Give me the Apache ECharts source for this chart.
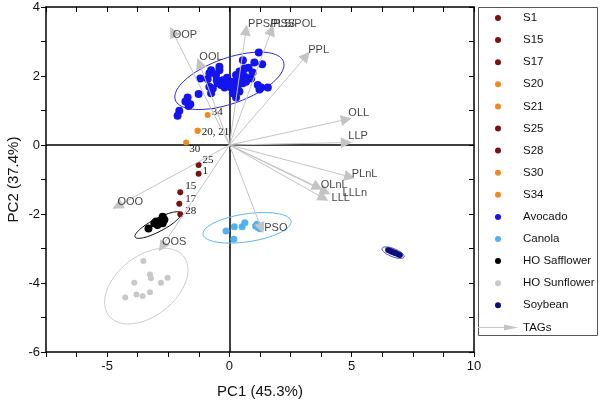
<!DOCTYPE html>
<html>
<head>
<meta charset="utf-8">
<script src="https://cdn.jsdelivr.net/npm/echarts@6/dist/echarts.min.js"></script>
<style>html,body{margin:0;padding:0;background:#fff}#c{width:600px;height:408px}</style>
</head>
<body>
<div id="c"></div>
<script>
// ---- data ----
const sampleNames = ['S1','S15','S17','S20','S21','S25','S28','S30','S34'];
const sampleLabels = ['1','15','17','20, 21','','25','28','30','34'];
const sampleX = [-1.26,-2.01,-2.05,-1.30,-1.30,-1.26,-2.01,-1.77,-0.89];
const sampleY = [-0.83,-1.37,-1.70,0.41,0.41,-0.58,-2.01,0.07,0.87];

const avocadoX = [1.20,0.55,1.02,1.34,0.61,0.78,0.41,-0.75,-0.41,-0.41,-0.82,-1.19,-0.89,-0.55,-0.52,-0.25,-0.07,0.27,0.55,0.68,0.89,0.68,0.55,0.27,0.00,-0.14,-0.34,-0.48,-0.82,-0.68,-0.20,0.07,0.27,0.41,0.14,0.27,1.16,1.30,1.57,1.23,-0.75,-1.26,-1.71,-1.80,-1.60,-1.67,-2.05,-2.12,0.48,0.07,-0.27,0.34,-0.10,0.95];
const avocadoY = [2.68,2.46,2.39,2.34,2.22,2.24,2.13,2.17,2.27,2.17,2.08,1.93,1.91,2.03,1.88,1.83,1.88,2.03,2.06,1.96,1.93,1.83,1.79,1.83,1.79,1.74,1.74,1.79,1.69,1.64,1.67,1.67,1.59,1.55,1.50,1.38,1.74,1.67,1.67,1.61,1.50,1.48,1.38,1.26,1.18,1.13,0.99,0.85,1.88,1.83,1.88,1.72,1.95,2.10];
const canolaX = [-0.14,0.20,0.18,0.52,0.63,1.07,1.16,1.26,1.13];
const canolaY = [-2.49,-2.37,-2.73,-2.37,-2.25,-2.35,-2.39,-2.43,-2.30];
const safflowerX = [-3.31,-3.07,-3.00,-2.89,-2.73,-2.66,-2.73,-2.94];
const safflowerY = [-2.42,-2.27,-2.22,-2.25,-2.08,-2.17,-2.27,-2.32];
const sunflowerX = [-3.52,-3.25,-3.21,-2.53,-2.80,-3.89,-4.26,-3.80,-3.55,-3.25];
const sunflowerY = [-3.36,-3.75,-3.86,-3.85,-3.99,-3.99,-4.42,-4.33,-4.38,-4.27];
const soybeanX = [6.49,6.58,6.69,6.80,6.90,6.62,6.76,6.97];
const soybeanY = [-3.04,-3.07,-3.11,-3.14,-3.17,-3.09,-3.12,-3.19];

// ellipse: centre x, centre y, half-axis 1 (dx, dy), half-axis 2 (dx, dy)
const avocadoEllipse = [0.00, 1.86, 2.21, 0.556, 0.31, -0.62];
const canolaEllipse = [0.72, -2.40, 1.80, 0.19, 0.086, -0.40];
const safflowerEllipse = [-2.92, -2.32, 0.935, 0.348, 0.124, -0.166];
const sunflowerEllipse = [-3.40, -4.09, 1.516, 0.870, 0.779, -0.667];
const soybeanEllipse = [6.69, -3.12, 0.45, -0.125, -0.06, -0.11];

const tagNames = ['OOP','OOL','PPS/PSS','PLS/POL','PPL','OLL','LLP','PLnL','OLnL','LLLn','LLL','PSO','OOO','OOS'];
const tagX = [-2.32,-1.23,0.68,1.72,3.14,4.78,4.78,4.92,3.61,3.93,3.85,1.30,-4.58,-2.76];
const tagY = [3.28,2.37,3.33,3.33,2.58,0.74,0.07,-0.92,-1.22,-1.36,-1.54,-2.41,-1.77,-2.95];

const xTicksLabelled = [-5, 0, 5, 10];
const yTicksLabelled = [-6, -4, -2, 0, 2, 4];

// ---- styles ----
const SANS = 'Liberation Sans, Arial, sans-serif';
const SERIF = 'Liberation Serif, Times New Roman, serif';
const darkRed = '#7b1111', orange = '#f0891e';
const sampleColor = {S1:darkRed,S15:darkRed,S17:darkRed,S20:orange,S21:orange,S25:darkRed,S28:darkRed,S30:orange,S34:orange};
const sampleLabelOffset = {S1:[4,-3],S15:[5,-6],S17:[6,-5],S20:[4,1],S21:[0,0],S25:[4,-5],S28:[5,-3.5],S30:[3,7],S34:[4,-3]};
const tagLabelOffset = {'OOP':[0,3],'OOL':[0,-6.5],'PPS/PSS':[2,-6],'PLS/POL':[-1,-6],'PPL':[2,-6],'OLL':[2,-6.5],'LLP':[2,-6.5],
  'PLnL':[2,-3],'OLnL':[3,-2],'LLLn':[17,1],'LLL':[8,0],'PSO':[3,0],'OOO':[0,-4],'OOS':[0,-5]};

function zip(xs, ys){ return xs.map((x,i)=>[x, ys[i]]); }

function ellipseSeries(name, params, color, z){
  return {
    type:'custom', name:name, data:[params], encode:{x:0,y:1}, silent:true, z:z,
    renderItem:function(p, api){
      const cx=api.value(0), cy=api.value(1), ax=api.value(2), ay=api.value(3), bx=api.value(4), by=api.value(5);
      const pts=[];
      for(let i=0;i<=90;i++){
        const t=i/90*2*Math.PI;
        pts.push(api.coord([cx+ax*Math.cos(t)+bx*Math.sin(t), cy+ay*Math.cos(t)+by*Math.sin(t)]));
      }
      return {type:'polyline', shape:{points:pts}, style:{fill:null, stroke:color, lineWidth:1}};
    }
  };
}

const series = [];
function groupSeries(name, xs, ys, color, size){
  return {type:'scatter', name:name, data:zip(xs,ys), symbolSize:size, itemStyle:{color:color, opacity:1}, z:5, silent:true};
}
const avo = groupSeries('Avocado', avocadoX, avocadoY, '#1414ee', 8);
avo.markLine = {silent:true, symbol:['none','none'], label:{show:false},
  lineStyle:{color:'#000', width:1.5, type:'solid', opacity:1}, data:[{xAxis:0},{yAxis:0}], z:2};
series.push(avo);
series.push(groupSeries('Canola', canolaX, canolaY, '#4fb3ee', 7));
series.push(groupSeries('HO Safflower', safflowerX, safflowerY, '#000000', 8));
series.push(groupSeries('HO Sunflower', sunflowerX, sunflowerY, '#c8c8c8', 6));
series.push(groupSeries('Soybean', soybeanX, soybeanY, '#0c0c7a', 6));

sampleNames.forEach((n,i)=>{
  series.push({type:'scatter', name:n, symbolSize:6, z:5, silent:true,
    itemStyle:{color:sampleColor[n], opacity:1},
    data:[{value:[sampleX[i], sampleY[i]], name:sampleLabels[i]}],
    label:{show:sampleLabels[i]!=='', formatter:sampleLabels[i], position:'inside', align:'left', verticalAlign:'middle',
      offset:sampleLabelOffset[n], fontFamily:SERIF, fontSize:11, color:'#111'}
  });
});

series.push(ellipseSeries('e-avocado', avocadoEllipse, '#2626d8', 3));
series.push(ellipseSeries('e-canola', canolaEllipse, '#5ab6ea', 3));
series.push(ellipseSeries('e-safflower', safflowerEllipse, '#000000', 3));
series.push(ellipseSeries('e-sunflower', sunflowerEllipse, '#cccccc', 3));
series.push(ellipseSeries('e-soybean', soybeanEllipse, '#3a3ad0', 6));

series.push({type:'lines', name:'TAGs', coordinateSystem:'cartesian2d', silent:true, z:6,
  data: tagNames.map((n,i)=>({name:n, coords:[[0,0],[tagX[i], tagY[i]]]})),
  symbol:['none','triangle'], symbolSize:11,
  itemStyle:{color:'#c4c4c4'},
  lineStyle:{color:'#c4c4c4', width:1, opacity:1, curveness:0}
});
series.push({type:'scatter', name:'tag-labels', silent:true, z:7, symbolSize:1,
  itemStyle:{color:'rgba(0,0,0,0)'},
  data: tagNames.map((n,i)=>({name:n, value:[tagX[i], tagY[i]], label:{offset:tagLabelOffset[n]}})),
  label:{show:true, formatter:'{b}', position:'inside', align:'left', verticalAlign:'middle',
    fontFamily:SANS, fontSize:11, color:'#111'}
});

const legendData = sampleNames.concat(['Avocado','Canola','HO Safflower','HO Sunflower','Soybean']).map(n=>({name:n, icon:'circle', itemStyle:{opacity:1}}));
legendData.push({name:'TAGs', icon:'path://M0,4.5L28,4.5L28,5.5L0,5.5ZM26,2L40,5L26,8Z', itemStyle:{color:'#c4c4c4', borderWidth:0}});

const axisLineStyle = {color:'#000', width:1.5};
const option = {
  animation:false,
  backgroundColor:'#fff',
  grid:{left:46, right:126, top:7, bottom:56, containLabel:false, outerBoundsMode:'none'},
  graphic:[{type:'rect', z:-10, silent:true, shape:{x:478.5, y:7.5, width:119, height:328}, style:{fill:'#fff', stroke:'#555', lineWidth:1}}],
  legend:{orient:'vertical', left:478, top:11, itemWidth:40, itemHeight:6, itemGap:8.1, padding:0, selectedMode:false,
    textStyle:{fontFamily:SANS, fontSize:11.5, color:'#111', lineHeight:14}, data:legendData},
  xAxis:[
    {type:'value', min:-7.5, max:10, interval:1.25, position:'bottom',
     axisLine:{onZero:false, lineStyle:axisLineStyle}, axisTick:{inside:false, length:5, lineStyle:{color:'#000', width:1}},
     axisLabel:{fontFamily:SANS, fontSize:13, color:'#111', margin:8,
       formatter:v=>xTicksLabelled.some(t=>Math.abs(t-v)<1e-9)?String(v):''},
     splitLine:{show:false}, nameMoveOverlap:false,
     name:'PC1 (45.3%)', nameLocation:'middle', nameGap:32, nameTextStyle:{fontFamily:SANS, fontSize:15, color:'#111'}},
    {type:'value', min:-7.5, max:10, interval:1.25, position:'top',
     axisLine:{onZero:false, lineStyle:axisLineStyle}, axisTick:{inside:true, length:5, lineStyle:{color:'#000', width:1}},
     axisLabel:{show:false}, splitLine:{show:false}}
  ],
  yAxis:[
    {type:'value', min:-6, max:4, interval:1, position:'left',
     axisLine:{onZero:false, lineStyle:axisLineStyle}, axisTick:{inside:false, length:5, lineStyle:{color:'#000', width:1}},
     axisLabel:{fontFamily:SANS, fontSize:13, color:'#111', margin:6,
       formatter:v=>yTicksLabelled.some(t=>Math.abs(t-v)<1e-9)?String(v):''},
     splitLine:{show:false}, nameMoveOverlap:false,
     name:'PC2 (37.4%)', nameLocation:'middle', nameGap:25, nameRotate:90, nameTextStyle:{fontFamily:SANS, fontSize:15, color:'#111'}},
    {type:'value', min:-6, max:4, interval:1, position:'right',
     axisLine:{onZero:false, lineStyle:axisLineStyle}, axisTick:{inside:true, length:5, lineStyle:{color:'#000', width:1}},
     axisLabel:{show:false}, splitLine:{show:false}}
  ],
  series:series
};
const chart = echarts.init(document.getElementById('c'), null, {renderer:'canvas'});
chart.setOption(option);
</script>
</body>
</html>
